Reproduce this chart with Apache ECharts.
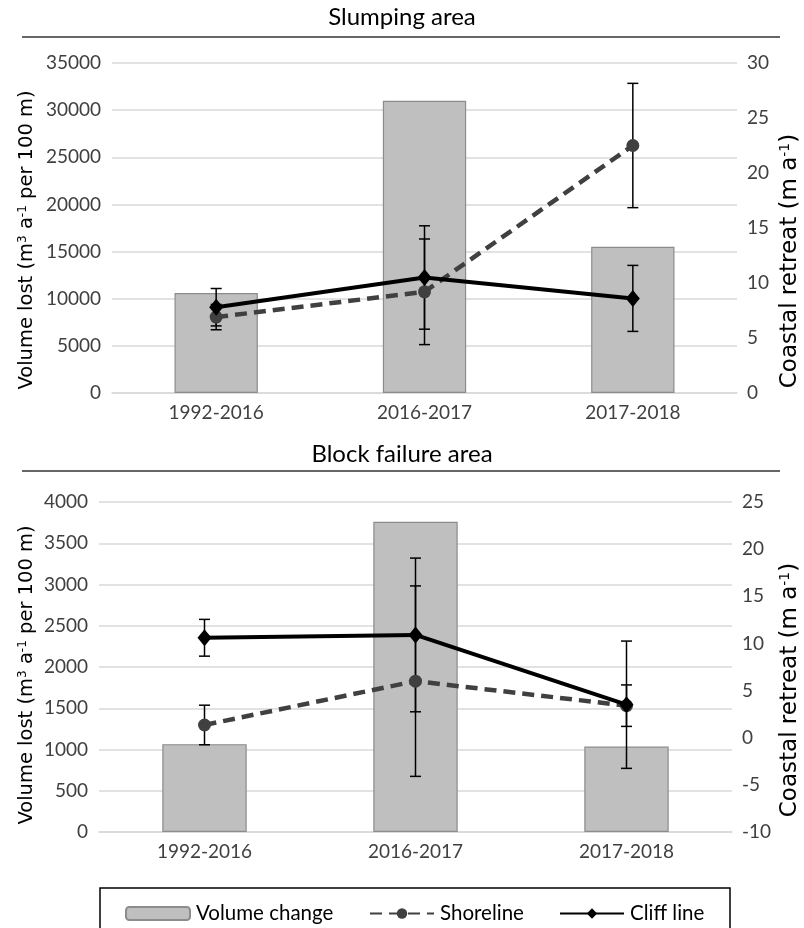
<!DOCTYPE html>
<html><head><meta charset="utf-8">
<script src="https://cdn.jsdelivr.net/npm/echarts@6/dist/echarts.min.js"></script>
<style>html,body{margin:0;padding:0;background:#fff}#c{width:804px;height:928px}</style>
</head><body><div id="c"></div>
<script>
// ---- data ----
const categories = ['1992-2016', '2016-2017', '2017-2018'];

const slumpVolume = [10600, 31000, 15500];
const slumpShoreline = [6.9, 9.2, 22.5];
const slumpShorelineErr = [1.15, 4.8, 5.65];
const slumpCliff = [7.8, 10.5, 8.6];
const slumpCliffErr = [1.7, 4.7, 3.0];

const blockVolume = [1065, 3760, 1035];
const blockShoreline = [1.35, 6.0, 3.4];
const blockShorelineErr = [2.1, 10.1, 2.2];
const blockCliff = [10.6, 10.9, 3.5];
const blockCliffErr = [1.95, 8.15, 6.75];

const titles = ['Slumping area', 'Block failure area'];
const seriesNames = ['Volume change', 'Shoreline', 'Cliff line'];

// ---- helpers ----
const tickFont = 'Lato';
const txtColor = '#404040';
function errData(vals, errs) { return vals.map((v, i) => [i, v - errs[i], v + errs[i]]); }
function errRender(params, api) {
  const x = api.value(0);
  const p1 = api.coord([x, api.value(1)]);
  const p2 = api.coord([x, api.value(2)]);
  const w = 5.5;
  const style = { stroke: '#000', lineWidth: 1.5 };
  return { type: 'group', children: [
    { type: 'line', shape: { x1: p1[0], y1: p1[1], x2: p2[0], y2: p2[1] }, style },
    { type: 'line', shape: { x1: p1[0] - w, y1: p1[1], x2: p1[0] + w, y2: p1[1] }, style },
    { type: 'line', shape: { x1: p2[0] - w, y1: p2[1], x2: p2[0] + w, y2: p2[1] }, style }
  ]};
}
function rich(size) {
  return {
    n: { fontFamily: 'DejaVu Sans', fontSize: size, color: '#262626' },
    sup: { fontFamily: 'DejaVu Sans', fontSize: Math.round(size * 0.62), color: '#262626', verticalAlign: 'top', padding: [0, 0, 8, 0] }
  };
}
const leftName = '{n|Volume lost (m}{sup|3}{n| a}{sup|-1}{n| per 100 m)}';
const rightName = '{n|Coastal retreat (m a}{sup|-1}{n|)}';
function vText(text, x, y, size) {
  return { type: 'text', x: x, y: y, rotation: Math.PI / 2,
    style: { text: text, rich: rich(size), align: 'center', verticalAlign: 'middle' } };
}

function xAxis(gi) {
  return {
    type: 'category', gridIndex: gi, data: categories,
    axisTick: { show: false },
    axisLine: { lineStyle: { color: '#d9d9d9', width: 1.5 } },
    axisLabel: { fontFamily: tickFont, fontSize: 19, color: txtColor, margin: 10 }
  };
}
function leftAxis(gi, max, interval) {
  return {
    type: 'value', gridIndex: gi, min: 0, max: max, interval: interval, position: 'left',
    axisLine: { show: false }, axisTick: { show: false },
    splitLine: { lineStyle: { color: '#d9d9d9', width: 1.5 } },
    axisLabel: { fontFamily: tickFont, fontSize: 19, color: txtColor, margin: 11, formatter: v => String(v) }
  };
}
function rightAxis(gi, min, max) {
  return {
    type: 'value', gridIndex: gi, min: min, max: max, interval: 5, position: 'right',
    axisLine: { show: false }, axisTick: { show: false }, splitLine: { show: false },
    axisLabel: { fontFamily: tickFont, fontSize: 19, color: txtColor, margin: 10, formatter: v => String(v) }
  };
}
function chartSeries(gi, vol, shore, shoreErr, cliff, cliffErr) {
  const yl = gi * 2, yr = gi * 2 + 1;
  return [
    { name: seriesNames[0], type: 'bar', xAxisIndex: gi, yAxisIndex: yl, data: vol, barWidth: '40%',
      itemStyle: { color: '#bfbfbf', borderColor: '#8c8c8c', borderWidth: 1.2 }, z: 1 },
    { type: 'custom', xAxisIndex: gi, yAxisIndex: yr, renderItem: errRender, data: errData(shore, shoreErr),
      encode: { x: 0, y: [1, 2] }, z: 3, silent: true },
    { type: 'custom', xAxisIndex: gi, yAxisIndex: yr, renderItem: errRender, data: errData(cliff, cliffErr),
      encode: { x: 0, y: [1, 2] }, z: 3, silent: true },
    { name: seriesNames[1], type: 'line', xAxisIndex: gi, yAxisIndex: yr, data: shore,
      symbol: 'circle', symbolSize: 13, color: '#404040',
      lineStyle: { color: '#404040', width: 4.5, type: [12, 7] }, itemStyle: { color: '#404040' }, z: 4 },
    { name: seriesNames[2], type: 'line', xAxisIndex: gi, yAxisIndex: yr, data: cliff,
      symbol: 'diamond', symbolSize: [14, 17], color: '#000',
      lineStyle: { color: '#000', width: 4 }, itemStyle: { color: '#000' }, z: 5 }
  ];
}
function legendAt(name, left) {
  return { data: [name], left: left, top: 903, padding: 0, itemWidth: 64, itemHeight: 13, itemGap: 0,
    textStyle: { fontFamily: tickFont, fontSize: 20.5, color: '#000', padding: [0, 0, 0, 1] } };
}

const chart = echarts.init(document.getElementById('c'));
chart.setOption({
  animation: false,
  backgroundColor: '#fff',
  title: [
    { text: titles[0], left: 'center', top: 5, padding: 0, textStyle: { fontFamily: tickFont, fontSize: 24, fontWeight: 'normal', color: '#000' } },
    { text: titles[1], left: 'center', top: 442, padding: 0, textStyle: { fontFamily: tickFont, fontSize: 24, fontWeight: 'normal', color: '#000' } }
  ],
  grid: [
    { left: 112, right: 67, top: 63, height: 330 },
    { left: 99, right: 72, top: 502, height: 330 }
  ],
  xAxis: [xAxis(0), xAxis(1)],
  yAxis: [
    leftAxis(0, 35000, 5000),
    rightAxis(0, 0, 30),
    leftAxis(1, 4000, 500),
    rightAxis(1, -10, 25)
  ],
  legend: [legendAt(seriesNames[0], 125), legendAt(seriesNames[1], 369), legendAt(seriesNames[2], 559)],
  graphic: [
    { type: 'line', shape: { x1: 22, y1: 37, x2: 780, y2: 37 }, style: { stroke: '#333', lineWidth: 1.5 } },
    { type: 'line', shape: { x1: 22, y1: 471, x2: 780, y2: 471 }, style: { stroke: '#333', lineWidth: 1.5 } },
    { type: 'rect', shape: { x: 100, y: 888, width: 630, height: 60 }, style: { fill: 'none', stroke: '#000', lineWidth: 1.5 } },
    vText(leftName, 27, 240, 19.5),
    vText(rightName, 790, 261, 23),
    vText(leftName, 27, 675, 19.5),
    vText(rightName, 790, 690, 23)
  ],
  series: [].concat(
    chartSeries(0, slumpVolume, slumpShoreline, slumpShorelineErr, slumpCliff, slumpCliffErr),
    chartSeries(1, blockVolume, blockShoreline, blockShorelineErr, blockCliff, blockCliffErr)
  )
});
</script>
</body></html>
